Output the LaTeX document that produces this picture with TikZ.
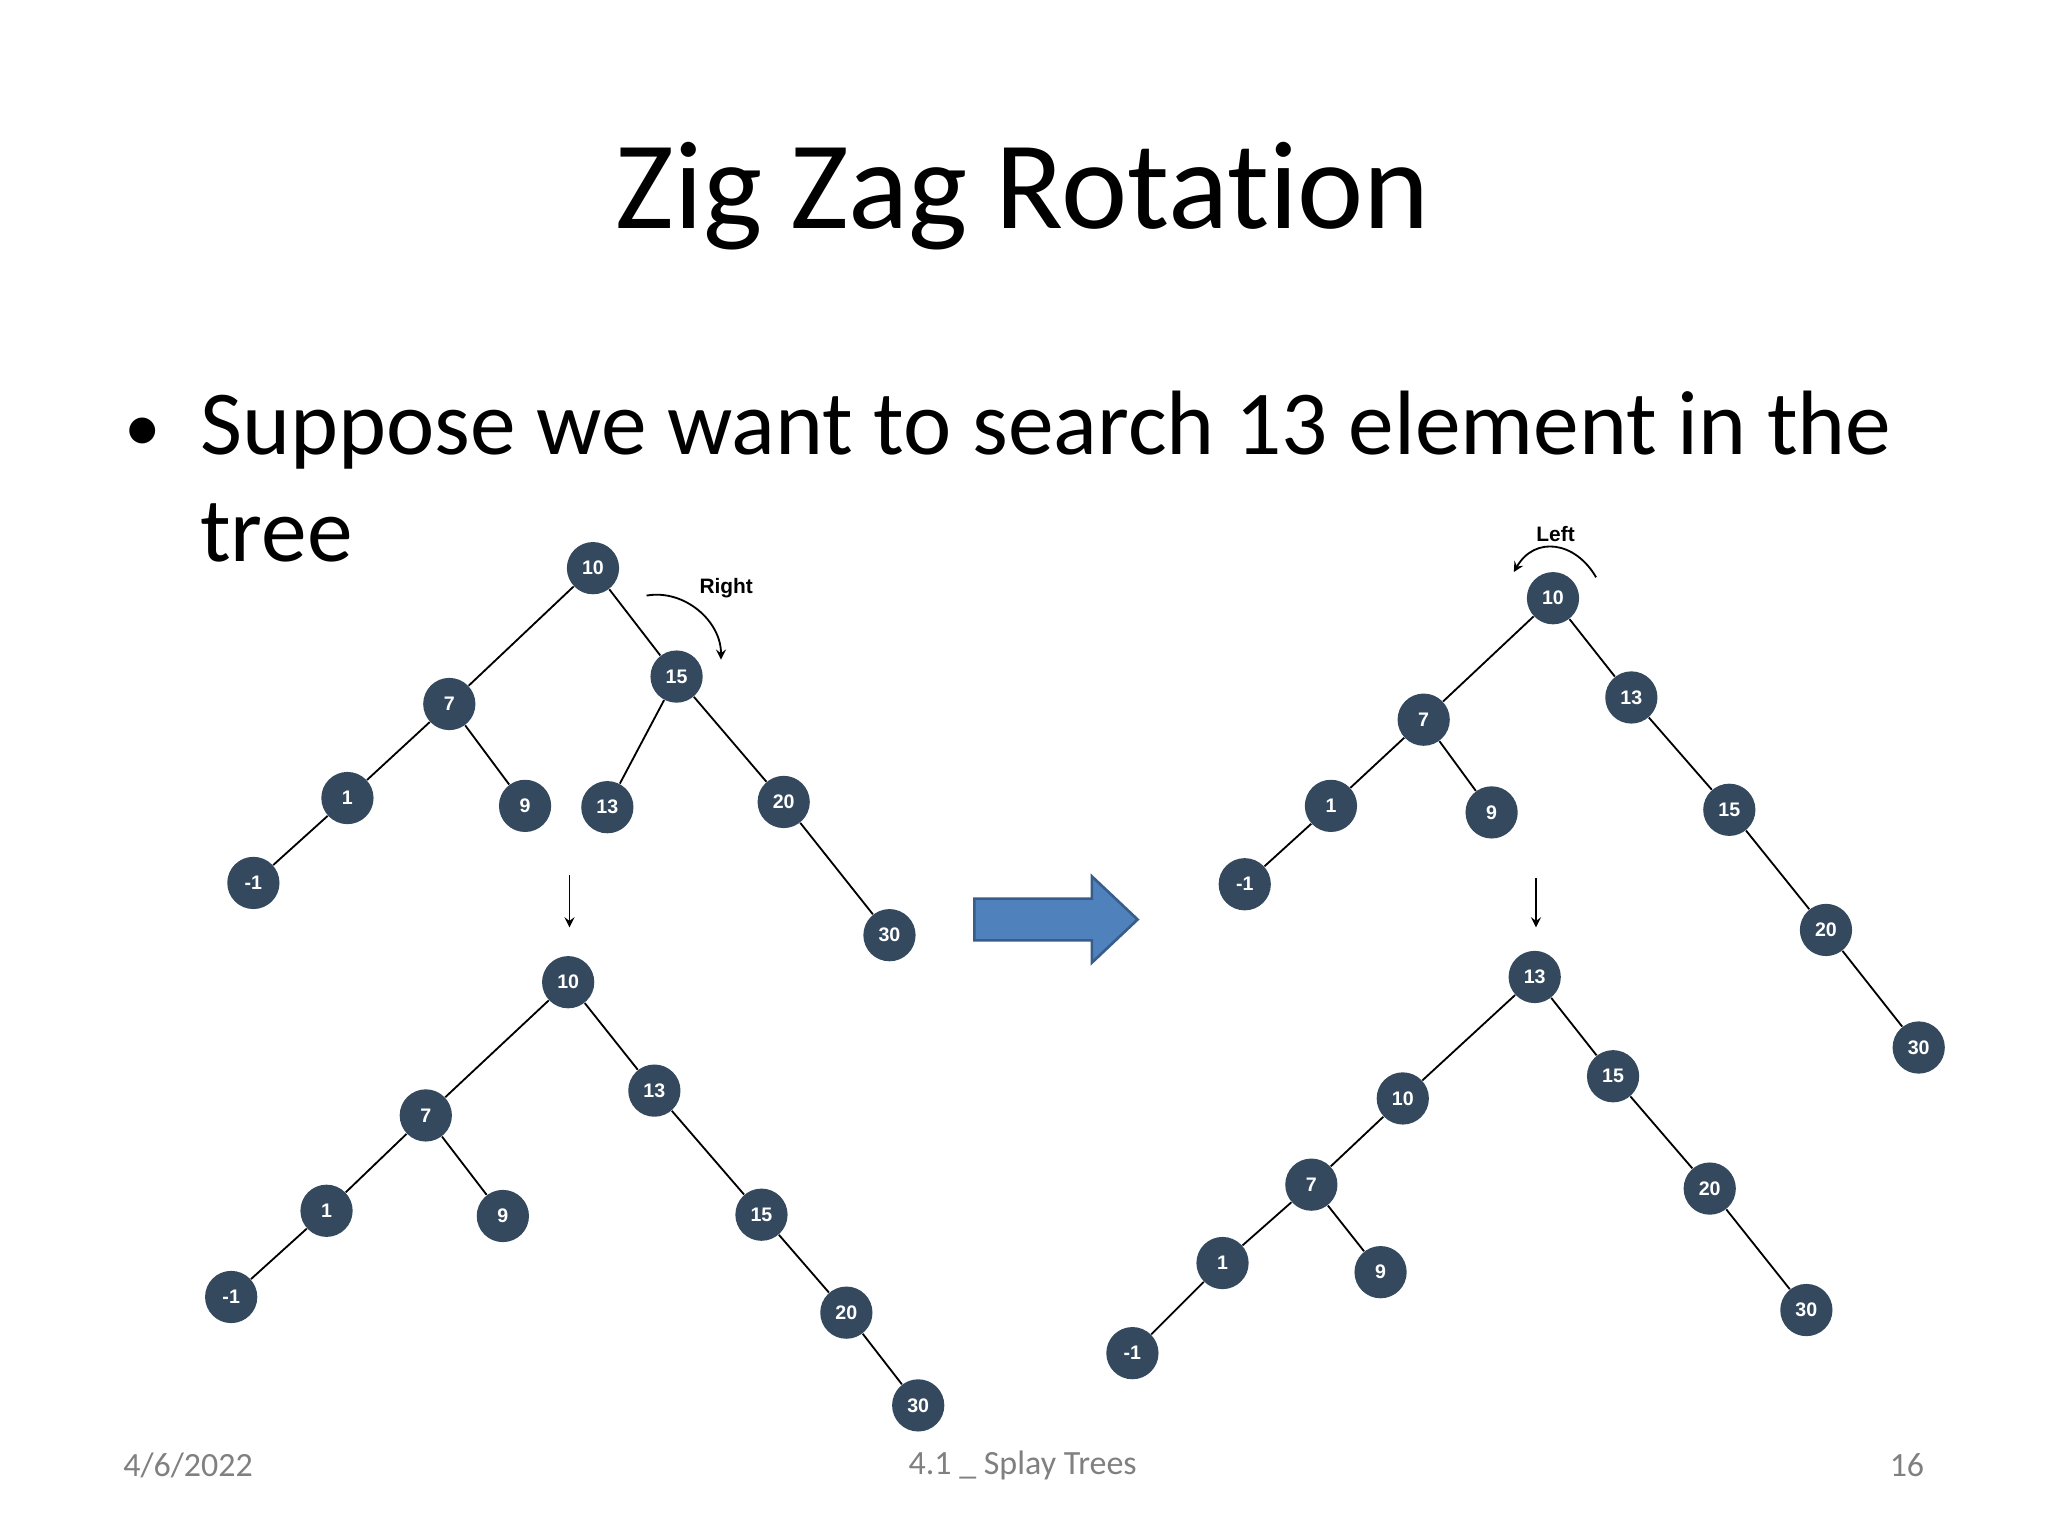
\documentclass[tikz,border=0pt]{standalone}
\usepackage{fontspec}
\setmainfont{Carlito}[Ligatures=NoCommon]
\newfontfamily\lab{Liberation Sans}
\definecolor{nd}{HTML}{34495E}
\definecolor{bl}{HTML}{4F81BD}
\definecolor{bld}{HTML}{385D8A}
\begin{document}
\begin{tikzpicture}[x=0.5pt,y=-0.5pt,
  tn/.style={circle,fill=nd,minimum size=20pt,inner sep=0pt,text=white,font=\lab\bfseries\fontsize{7.5}{8}\selectfont},
  ed/.style={line width=0.7pt},
  ar/.style={-stealth,line width=0.7pt}]
\useasboundingbox (0,0) rectangle (1568,1176);
\node[font=\fontsize{48}{56}\selectfont] (title) at (783,150) {Zig Zag Rotation};
\node[font=\fontsize{28}{30}\selectfont,anchor=base west,inner sep=0pt] (bul) at (95,346) {\textbullet};
\node[font=\fontsize{35}{42}\selectfont,anchor=base west,inner sep=0pt] (t1) at (153,348) {Suppose we want to search 13 element in the};
\node[font=\fontsize{35}{42}\selectfont,anchor=base west,inner sep=0pt] (t2) at (153,430) {tree};
\begin{scope}[every node/.style={text=gray,font=\fontsize{13}{16}\selectfont}]
\node (f1) at (144,1122) {4/6/2022};
\node (f2) at (783,1122) {4.1 \_ Splay Trees};
\node (f3) at (1460,1122) {16};
\end{scope}
% Tree A
\foreach \n/\t/\x/\y in {a10/10/454/435,a7/7/344/539,a15/15/518/518,a1/1/266/611,a9/9/402/617,a13/13/465/618,a20/20/600/614,am1/-1/194/676,a30/30/681/716}
  \node[tn] (\n) at (\x,\y) {\t};
\draw[ed] (a10)--(a7) (a10)--(a15) (a7)--(a1) (a7)--(a9) (a1)--(am1) (a15)--(a13) (a15)--(a20) (a20)--(a30);
\coordinate (ra) at (495,456); \coordinate (rb) at (552,505);
\draw[ar] (ra) to[out=10,in=90] (rb);
\node[font=\lab\bfseries\fontsize{8}{9}\selectfont] (rl) at (556,450) {Right};
\coordinate (d1a) at (436,670); \coordinate (d1b) at (436,710);
\draw[ar] (d1a)--(d1b);
% Tree B
\foreach \n/\t/\x/\y in {b10/10/435/752,b7/7/326/854,b13/13/501/835,b1/1/250/927,b9/9/385/931,b15/15/583/930,bm1/-1/177/993,b20/20/648/1005,b30/30/703/1076}
  \node[tn] (\n) at (\x,\y) {\t};
\draw[ed] (b10)--(b7) (b10)--(b13) (b7)--(b1) (b7)--(b9) (b1)--(bm1) (b13)--(b15) (b15)--(b20) (b20)--(b30);
% big arrow
\draw[fill=bl,draw=bld,line width=1pt] (746,688)--(836,688)--(836,671)--(871,704)--(836,737)--(836,720)--(746,720)--cycle;
% Tree C
\foreach \n/\t/\x/\y in {c10/10/1189/458,c7/7/1090/551,c13/13/1249/534,c1/1/1019/617,c9/9/1142/622,c15/15/1324/620,cm1/-1/953/677,c20/20/1398/712,c30/30/1469/802}
  \node[tn] (\n) at (\x,\y) {\t};
\draw[ed] (c10)--(c7) (c10)--(c13) (c7)--(c1) (c7)--(c9) (c1)--(cm1) (c13)--(c15) (c15)--(c20) (c20)--(c30);
\coordinate (la) at (1222,442); \coordinate (lb) at (1159,438);
\draw[ar] (la) to[out=120,in=60,looseness=1.3] (lb);
\node[font=\lab\bfseries\fontsize{8}{9}\selectfont] (ll) at (1191,409) {Left};
\coordinate (d2a) at (1176,672); \coordinate (d2b) at (1176,710);
\draw[ar] (d2a)--(d2b);
% Tree D
\foreach \n/\t/\x/\y in {d13/13/1175/748,d10/10/1074/841,d15/15/1235/824,d7/7/1004/907,d20/20/1309/910,d1/1/936/967,d9/9/1057/974,d30/30/1383/1003,dm1/-1/867/1036}
  \node[tn] (\n) at (\x,\y) {\t};
\draw[ed] (d13)--(d10) (d13)--(d15) (d10)--(d7) (d7)--(d1) (d7)--(d9) (d1)--(dm1) (d15)--(d20) (d20)--(d30);
\end{tikzpicture}
\end{document}
